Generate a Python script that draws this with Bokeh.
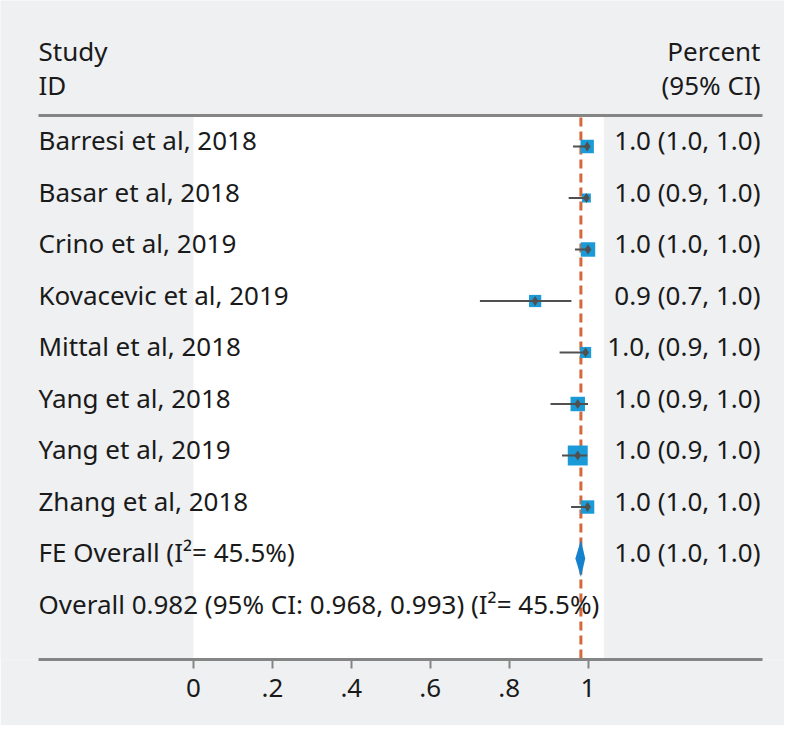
from bokeh.plotting import figure
from bokeh.models import Range1d, FixedTicker
from bokeh.embed import file_html
from bokeh.resources import INLINE
from bokeh.core.properties import value

# ---------------- data ----------------
studies = ["Barresi et al, 2018", "Basar et al, 2018", "Crino et al, 2019",
           "Kovacevic et al, 2019", "Mittal et al, 2018", "Yang et al, 2018",
           "Yang et al, 2019", "Zhang et al, 2018"]
estimate = [0.998, 0.996, 1.000, 0.866, 0.994, 0.974, 0.974, 0.999]
ci_low = [0.962, 0.951, 0.967, 0.726, 0.928, 0.905, 0.934, 0.957]
ci_high = [1.000, 1.000, 1.000, 0.958, 1.000, 1.000, 0.998, 1.000]
weight = [11.7, 5.2, 13.7, 9.8, 8.1, 13.7, 26.2, 11.7]
ci_text = ["1.0 (1.0, 1.0)", "1.0 (0.9, 1.0)", "1.0 (1.0, 1.0)", "0.9 (0.7, 1.0)",
           "1.0, (0.9, 1.0)", "1.0 (0.9, 1.0)", "1.0 (0.9, 1.0)", "1.0 (1.0, 1.0)"]

overall_label = "FE Overall (I\u00b2= 45.5%)"
overall_est = 0.982
overall_low = 0.968
overall_high = 0.993
overall_text = "1.0 (1.0, 1.0)"
summary_line = "Overall 0.982 (95% CI: 0.968, 0.993) (I\u00b2= 45.5%)"

tick_values = [0, 0.2, 0.4, 0.6, 0.8, 1.0]
tick_labels = ["0", ".2", ".4", ".6", ".8", "1"]

# ---------------- layout ----------------
W, H = 784, 725
FONT = "Noto Sans"
BG = "#eff0f2"
TXT = "#1a1a1a"
RULE = "#858585"

px_per_unit = 394.5
x0_px = 193
x_start = -x0_px / px_per_unit
x_end = (W - x0_px) / px_per_unit

row_px = 51.5
row0_px = 146
frame_h = 659
y_top = -row0_px / row_px
y_bottom = (frame_h - row0_px) / row_px

left_x = (38 - x0_px) / px_per_unit
right_x = (760 - x0_px) / px_per_unit
rule_right = (762 - x0_px) / px_per_unit
rule_y = (115 - row0_px) / row_px
head1_y = (50 - row0_px) / row_px
head2_y = (84 - row0_px) / row_px
text_dy = -0.12

p = figure(width=W, height=H, output_backend="svg", toolbar_location=None,
           x_range=Range1d(x_start, x_end), y_range=Range1d(y_bottom, y_top),
           y_axis_location=None, min_border_left=0, min_border_right=0,
           min_border_top=0, min_border_bottom=H - frame_h)
p.background_fill_color = BG
p.border_fill_color = BG
p.outline_line_color = None
p.grid.visible = False

# white plotting region
p.quad(left=0, right=1.04, top=rule_y, bottom=y_bottom, fill_color="white", line_color=None)

# top rule
p.segment(x0=left_x, y0=rule_y, x1=rule_right, y1=rule_y, line_color=RULE, line_width=3)

# overall dashed line
p.segment(x0=overall_est, y0=rule_y + 0.04, x1=overall_est, y1=y_bottom,
          line_color="#d4683a", line_width=3, line_dash="9 5")

rows = list(range(len(studies)))
sizes = [3.9 * w ** 0.5 for w in weight]

p.rect(x=estimate, y=rows, width=sizes, height=sizes, width_units="screen",
       height_units="screen", fill_color="#1a9bd7", line_color=None)
p.segment(x0=ci_low, y0=rows, x1=ci_high, y1=rows, line_color="#505050", line_width=2)
p.scatter(x=estimate, y=rows, size=10, marker="diamond",
          fill_color="#505050", line_color=None)

# overall diamond
orow = len(studies)
h = 0.36
p.patch(x=[overall_low, overall_est, overall_high, overall_est],
        y=[orow, orow - h, orow, orow + h],
        fill_color="#1580cc", line_color=None)

FS = "26px"
tf = value(FONT)
# left column
p.text(x=[left_x] * len(studies), y=[r + text_dy for r in rows], text=studies,
       text_font=tf, text_font_size=FS, text_color=TXT,
       text_align="left", text_baseline="middle")
p.text(x=[left_x], y=[orow + text_dy], text=[overall_label], text_font=tf,
       text_font_size=FS, text_color=TXT, text_align="left", text_baseline="middle")
p.text(x=[left_x], y=[orow + 1 + text_dy], text=[summary_line], text_font=tf,
       text_font_size=FS, text_color=TXT, text_align="left", text_baseline="middle")
# right column
p.text(x=[right_x] * len(studies), y=[r + text_dy for r in rows], text=ci_text,
       text_font=tf, text_font_size=FS, text_color=TXT,
       text_align="right", text_baseline="middle")
p.text(x=[right_x], y=[orow + text_dy], text=[overall_text], text_font=tf,
       text_font_size=FS, text_color=TXT, text_align="right", text_baseline="middle")
# headers
p.text(x=[left_x, left_x], y=[head1_y, head2_y], text=["Study", "ID"], text_font=tf,
       text_font_size=FS, text_color=TXT, text_align="left", text_baseline="middle")
p.text(x=[right_x, right_x], y=[head1_y, head2_y], text=["Percent", "(95% CI)"],
       text_font=tf, text_font_size=FS, text_color=TXT,
       text_align="right", text_baseline="middle")

# x axis
ax = p.xaxis[0]
ax.ticker = FixedTicker(ticks=tick_values)
ax.major_label_overrides = {v: l for v, l in zip(tick_values, tick_labels)}
ax.bounds = (left_x, rule_right)
ax.axis_line_color = RULE
ax.axis_line_width = 3
ax.major_tick_line_color = RULE
ax.major_tick_line_width = 2
ax.major_tick_in = 0
ax.major_tick_out = 9
ax.minor_tick_line_color = None
ax.major_label_text_font = FONT
ax.major_label_text_font_size = "26px"
ax.major_label_text_color = TXT
ax.major_label_standoff = 10

open("out.html", "w").write(file_html(p, INLINE))
